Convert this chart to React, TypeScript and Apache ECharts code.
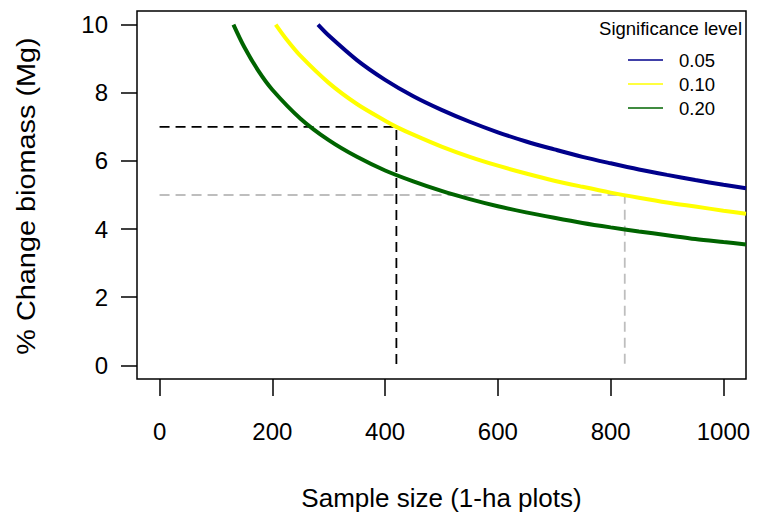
import React, { useEffect, useRef } from "react";
import * as echarts from "echarts";

// Sample size (1-ha plots) and % change biomass for each significance level
const sampleSize005 = [281, 300, 350, 400, 450, 500, 550, 600, 650, 700, 750, 800, 850, 900, 950, 1000, 1040];
const change005 = [10, 9.68, 8.96, 8.38, 7.9, 7.5, 7.15, 6.84, 6.57, 6.34, 6.12, 5.93, 5.75, 5.59, 5.44, 5.3, 5.2];

const sampleSize010 = [206, 225, 250, 300, 350, 400, 420, 450, 500, 550, 600, 650, 700, 750, 800, 850, 900, 950, 1000, 1040];
const change010 = [10, 9.57, 9.08, 8.29, 7.67, 7.18, 7.0, 6.77, 6.42, 6.12, 5.86, 5.63, 5.42, 5.24, 5.07, 4.92, 4.78, 4.66, 4.54, 4.45];

const sampleSize020 = [131, 150, 175, 200, 250, 300, 350, 400, 450, 500, 550, 600, 650, 700, 750, 800, 850, 900, 950, 1000, 1040];
const change020 = [10, 9.35, 8.65, 8.09, 7.24, 6.61, 6.12, 5.72, 5.4, 5.12, 4.88, 4.67, 4.49, 4.33, 4.18, 4.05, 3.93, 3.82, 3.71, 3.62, 3.55];

// Reference guide lines (dashed)
const guideBlackX = [0, 420, 420];
const guideBlackY = [7, 7, 0];
const guideGrayX = [0, 825, 825];
const guideGrayY = [5, 5, 0];

const xTicks = [0, 200, 400, 600, 800, 1000];
const yTicks = [0, 2, 4, 6, 8, 10];

const levelNames = ["0.05", "0.10", "0.20"];
const levelColors = ["#00008B", "#FFFF00", "#006400"];

const FONT = "Liberation Sans, Arial, Helvetica, sans-serif";

const zip = (xs: number[], ys: number[]) => xs.map((x, i) => [x, ys[i]]);

export default function App() {
  const ref = useRef<HTMLDivElement>(null);
  useEffect(() => {
    if (!ref.current) return;
    const chart = echarts.init(ref.current, null, { renderer: "svg" });
    const curveData = [zip(sampleSize005, change005), zip(sampleSize010, change010), zip(sampleSize020, change020)];

    const legendTop = 50;
    const legendStep = 24;
    const legendGraphics: any[] = [
      {
        type: "text",
        x: 742,
        y: 28,
        style: { text: "Significance level", font: `18.5px ${FONT}`, fill: "#000", align: "right", verticalAlign: "middle" },
      },
      {
        type: "text",
        x: 26,
        y: 196,
        rotation: Math.PI / 2,
        scaleX: 1.11,
        style: { text: "% Change biomass (Mg)", font: `26px ${FONT}`, fill: "#000", align: "center", verticalAlign: "middle" },
      },
    ];
    levelNames.forEach((name, i) => {
      legendGraphics.push({
        type: "line",
        shape: { x1: 628, y1: legendTop + 10 + i * legendStep, x2: 663, y2: legendTop + 10 + i * legendStep },
        style: { stroke: levelColors[i], lineWidth: 1.5 },
      });
      legendGraphics.push({
        type: "text",
        x: 679,
        y: legendTop + 10 + i * legendStep,
        style: { text: name, font: `18.5px ${FONT}`, fill: "#000", verticalAlign: "middle" },
      });
    });

    chart.setOption({
      animation: false,
      backgroundColor: "#fff",
      grid: {
        left: 137,
        right: 16,
        top: 11,
        bottom: 143,
        show: true,
        borderColor: "#000",
        borderWidth: 1.5,
        backgroundColor: "transparent",
      },
      xAxis: {
        type: "value",
        min: -40,
        max: 1040,
        name: "Sample size (1-ha plots)",
        nameLocation: "middle",
        nameGap: 106,
        nameTextStyle: { fontSize: 26, fontFamily: FONT, color: "#000" },
        axisLine: { show: false, onZero: false },
        splitLine: { show: false },
        axisTick: { show: true, length: 17, inside: false, customValues: xTicks, lineStyle: { color: "#000", width: 1.5 } },
        axisLabel: {
          customValues: xTicks,
          fontSize: 24,
          fontFamily: FONT,
          color: "#000",
          margin: 40,
          formatter: (v: number) => String(v),
        },
      },
      yAxis: {
        type: "value",
        min: -0.4,
        max: 10.4,
        axisLine: { show: false, onZero: false },
        splitLine: { show: false },
        axisTick: { show: true, length: 16, inside: false, customValues: yTicks, lineStyle: { color: "#000", width: 1.5 } },
        axisLabel: {
          customValues: yTicks,
          fontSize: 24,
          fontFamily: FONT,
          color: "#000",
          margin: 29,
          formatter: (v: number) => String(v),
        },
      },
      graphic: legendGraphics,
      series: [
        {
          type: "line",
          name: "guide-black",
          data: zip(guideBlackX, guideBlackY),
          symbol: "none",
          lineStyle: { color: "#000", width: 1.8, type: [10, 6] },
          z: 1,
        },
        {
          type: "line",
          name: "guide-gray",
          data: zip(guideGrayX, guideGrayY),
          symbol: "none",
          lineStyle: { color: "#BEBEBE", width: 1.8, type: [10, 6] },
          z: 1,
        },
        ...levelNames.map((name, i) => ({
          type: "line",
          name,
          data: curveData[i],
          symbol: "none",
          smooth: 0.3,
          lineStyle: { color: levelColors[i], width: 4 },
          z: 2,
        })),
      ],
    });
    return () => chart.dispose();
  }, []);
  return <div ref={ref} style={{ position: "fixed", left: 0, top: 0, width: 762, height: 522 }} />;
}
